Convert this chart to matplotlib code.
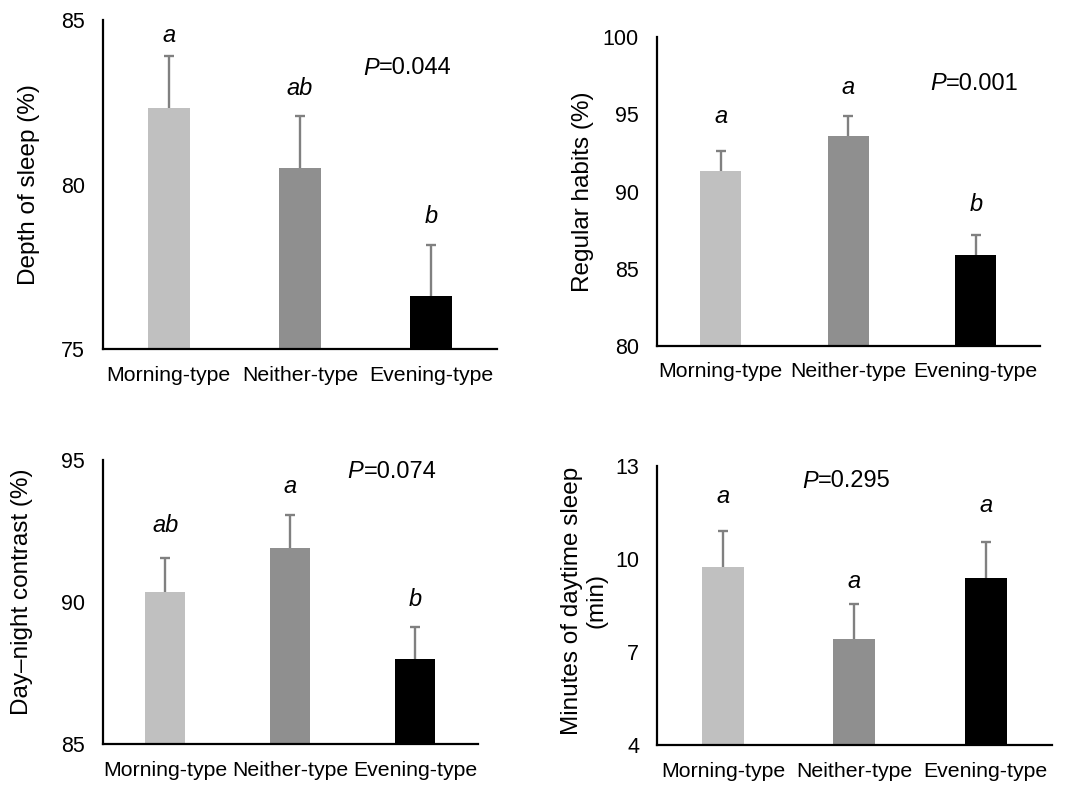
import matplotlib
matplotlib.use("Agg")
import matplotlib.pyplot as plt
import numpy as np

plt.rcParams['font.family'] = ['Liberation Sans', 'DejaVu Sans']

groups = ["Morning-type", "Neither-type", "Evening-type"]
bar_colors = ["#c0c0c0", "#8f8f8f", "#000000"]

# panel data: means, upper SE, significance letters
depth_mean = [82.32, 80.49, 76.61]
depth_err = [1.59, 1.59, 1.55]
depth_letters = ["a", "ab", "b"]

habits_mean = [91.33, 93.60, 85.88]
habits_err = [1.32, 1.30, 1.30]
habits_letters = ["a", "a", "b"]

contrast_mean = [90.36, 91.89, 87.99]
contrast_err = [1.18, 1.18, 1.15]
contrast_letters = ["ab", "a", "b"]

nap_mean = [9.73, 7.41, 9.37]
nap_err = [1.17, 1.12, 1.16]
nap_letters = ["a", "a", "a"]

panels = [
    dict(mean=depth_mean, err=depth_err, letters=depth_letters,
         letter_y=[84.54, 82.93, 79.04], ylim=(75, 85), ticks=[75, 80, 85],
         ylabel="Depth of sleep (%)", p="0.044", p_xy=(1.48, 83.54),
         rect=[0.0953, 0.5554, 0.3645, 0.4191], lab=(-0.16, 0.5)),
    dict(mean=habits_mean, err=habits_err, letters=habits_letters,
         letter_y=[94.85, 96.76, 89.13], ylim=(80, 100), ticks=[80, 85, 90, 95, 100],
         ylabel="Regular habits (%)", p="0.001", p_xy=(1.64, 97.0),
         rect=[0.6075, 0.5596, 0.3543, 0.3929], lab=(-0.165, 0.5)),
    dict(mean=contrast_mean, err=contrast_err, letters=contrast_letters,
         letter_y=[92.71, 94.06, 90.11], ylim=(85, 95), ticks=[85, 90, 95],
         ylabel="Day\u2013night contrast (%)", p="0.074", p_xy=(1.46, 94.59),
         rect=[0.095, 0.0518, 0.3469, 0.3622], lab=(-0.186, 0.535)),
    dict(mean=nap_mean, err=nap_err, letters=nap_letters,
         letter_y=[12.0, 9.26, 11.73], ylim=(4, 13), ticks=[4, 7, 10, 13],
         ylabel="Minutes of daytime sleep\n(min)", p="0.295", p_xy=(0.60, 12.49),
         rect=[0.608, 0.0510, 0.3648, 0.3558], lab=(-0.125, 0.517)),
]

fig = plt.figure(figsize=(10.81, 7.85), dpi=100)
x = np.arange(len(groups))

for pn in panels:
    ax = fig.add_axes(pn["rect"])
    ax.bar(x, pn["mean"], width=0.32, color=bar_colors, zorder=2)
    lower = np.zeros(len(x))
    _, caps, _ = ax.errorbar(x, pn["mean"], yerr=[lower, pn["err"]], fmt="none",
                             ecolor="#808080", elinewidth=1.7, capsize=3.5,
                             capthick=1.7, zorder=1)
    caps[0].set_visible(False)  # only the upper cap
    for xi, let, ly in zip(x, pn["letters"], pn["letter_y"]):
        ax.text(xi, ly, let, ha="center", va="center", fontsize=17, style="italic")
    # P value with italic P
    t1 = ax.text(pn["p_xy"][0], pn["p_xy"][1], "P", fontsize=17, style="italic",
                 ha="left", va="center")
    ax.annotate("=" + pn["p"], xy=(1, 0.5), xycoords=t1, fontsize=17,
                ha="left", va="center")
    ax.set_xlim(-0.5, 2.5)
    ax.set_ylim(*pn["ylim"])
    ax.set_yticks(pn["ticks"])
    ax.set_xticks(x)
    ax.set_xticklabels(groups, fontsize=15.3)
    ax.tick_params(axis="y", length=0, pad=13, labelsize=15.5)
    ax.tick_params(axis="x", length=0, pad=12)
    for s in ["top", "right"]:
        ax.spines[s].set_visible(False)
    for s in ["left", "bottom"]:
        ax.spines[s].set_linewidth(1.6)
    ax.set_ylabel(pn["ylabel"], fontsize=17.5, multialignment="center")
    ax.yaxis.set_label_coords(pn["lab"][0], pn["lab"][1])

fig.savefig("out.png", dpi=100)
